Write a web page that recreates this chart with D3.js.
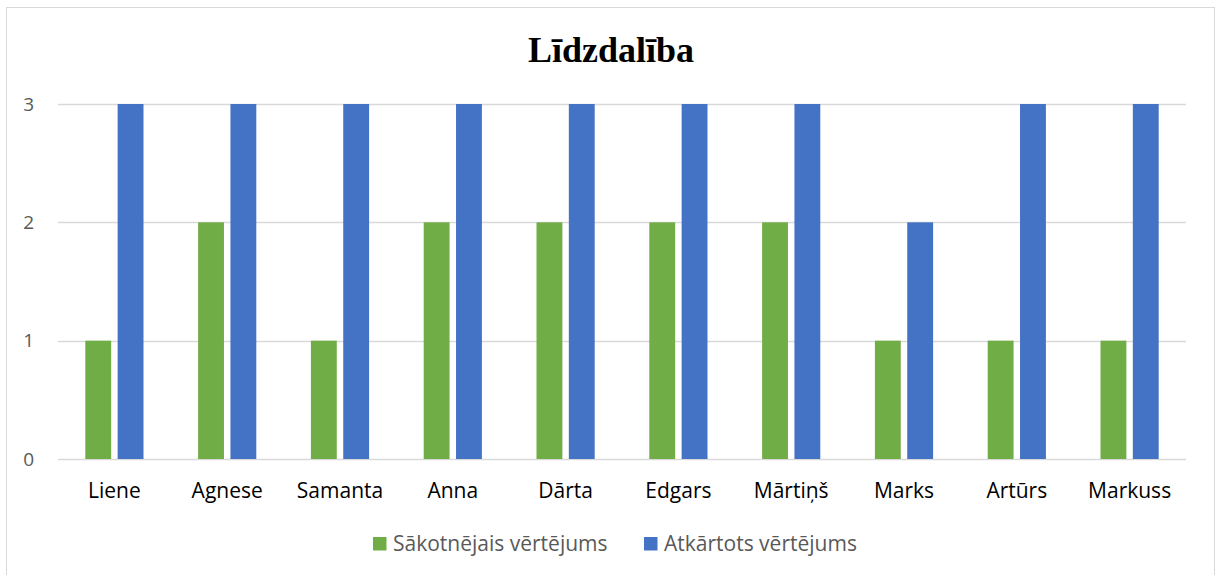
<!DOCTYPE html>
<html>
<head>
<meta charset="utf-8">
<script src="https://cdn.jsdelivr.net/npm/d3@7"></script>
<style>
    body { margin: 0; background: #fff; }
    text { font-family: "Open Sans", sans-serif; }
</style>
</head>
<body>
<script>
// chart data
const categories = ["Liene", "Agnese", "Samanta", "Anna", "Dārta", "Edgars", "Mārtiņš", "Marks", "Artūrs", "Markuss"];
const seriesNames = ["Sākotnējais vērtējums", "Atkārtots vērtējums"];
const initialValues = [1, 2, 1, 2, 2, 2, 2, 1, 1, 1];
const repeatValues = [3, 3, 3, 3, 3, 3, 3, 2, 3, 3];
const yTicks = [0, 1, 2, 3];
const colors = ["#70AD47", "#4472C4"];

const width = 1216, height = 575;
let margin = { top: 104, right: 30, bottom: 116, left: 58 };

let svg = d3.select("body").append("svg")
    .attr("width", width)
    .attr("height", height);

// outer chart border
svg.append("rect")
    .attr("x", 6.5).attr("y", 7.5)
    .attr("width", 1208).attr("height", 580)
    .attr("fill", "#fff")
    .attr("stroke", "#d9d9d9")
    .attr("stroke-width", 1);

let x0 = d3.scaleBand()
    .domain(categories)
    .range([margin.left, width - margin.right]);

let x1 = d3.scaleBand()
    .domain(seriesNames)
    .range([27.3, x0.bandwidth() - 27.3])
    .paddingInner(0.2);

let y = d3.scaleLinear()
    .domain([0, 3])
    .range([height - margin.bottom, margin.top]);

// gridlines
svg.append("g")
    .selectAll("line")
    .data(yTicks)
    .join("line")
    .attr("x1", margin.left)
    .attr("x2", width - margin.right)
    .attr("y1", d => Math.round(y(d)) + 0.5)
    .attr("y2", d => Math.round(y(d)) + 0.5)
    .attr("stroke", "#d9d9d9")
    .attr("stroke-width", 1.3);

// y axis labels (no axis line)
let yAxis = svg.append("g")
    .attr("transform", "translate(" + margin.left + ",0)")
    .call(d3.axisLeft(y).tickValues(yTicks).tickFormat(d3.format("d")).tickSize(0).tickPadding(24));
yAxis.select(".domain").remove();
yAxis.selectAll("text")
    .attr("fill", "#595959")
    .style("font-family", "'Open Sans', sans-serif")
    .style("font-size", "19px");

// x axis labels
let xAxis = svg.append("g")
    .attr("transform", "translate(0," + (height - margin.bottom) + ")")
    .call(d3.axisBottom(x0).tickSize(0).tickPadding(24));
xAxis.select(".domain").remove();
xAxis.selectAll("text")
    .attr("fill", "#000")
    .style("font-family", "'Open Sans', sans-serif")
    .style("font-size", "21px");

// bars
const seriesData = [initialValues, repeatValues];
seriesData.forEach((values, s) => {
    svg.append("g")
        .selectAll("rect")
        .data(values)
        .join("rect")
        .attr("x", (d, i) => x0(categories[i]) + x1(seriesNames[s]))
        .attr("y", d => y(d))
        .attr("width", x1.bandwidth())
        .attr("height", d => y(0) - y(d))
        .attr("fill", colors[s]);
});

// title
svg.append("text")
    .attr("x", 611)
    .attr("y", 62)
    .attr("text-anchor", "middle")
    .style("font-family", "'Liberation Serif', 'Times New Roman', serif")
    .style("font-weight", "bold")
    .style("font-size", "36px")
    .attr("fill", "#000")
    .text("Līdzdalība");

// legend
const legendX = [373, 644];
let legend = svg.append("g");
seriesNames.forEach((name, s) => {
    legend.append("rect")
        .attr("x", legendX[s])
        .attr("y", 537)
        .attr("width", 13.5)
        .attr("height", 13.5)
        .attr("fill", colors[s]);
    legend.append("text")
        .attr("x", legendX[s] + 20)
        .attr("y", 551)
        .attr("fill", "#595959")
        .style("font-size", "21px")
        .text(name);
});
</script>
</body>
</html>
